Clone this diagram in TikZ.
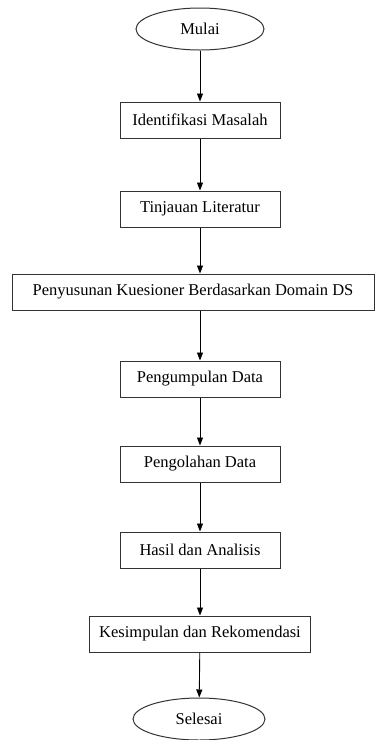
\documentclass[tikz,border=0pt]{standalone}
\usepackage{fontspec}
\setmainfont{Liberation Serif}
\usetikzlibrary{arrows.meta,shapes.geometric}
\begin{document}
\begin{tikzpicture}[x=1pt,y=-1pt,
  box/.style={draw=black!80,line width=1pt,minimum height=36pt,minimum width=160pt,inner xsep=10pt,inner ysep=0pt,font=\fontsize{16.5}{18}\selectfont},
  term/.style={draw=black!80,line width=1pt,ellipse,minimum width=128pt,minimum height=42pt,inner sep=0pt,font=\fontsize{16.5}{18}\selectfont},
  arr/.style={line width=0.9pt,-{Triangle[length=8pt,width=6pt]}}]
\useasboundingbox (0,0) rectangle (376,740);
\node[term] (a) at (200,29) {Mulai};
\node[box] (b) at (200,120) {Identifikasi Masalah};
\node[box] (c) at (200,209) {Tinjauan Literatur};
\node[box,minimum width=362pt] (d) at (193,292) {Penyusunan Kuesioner Berdasarkan Domain DS};
\node[box] (e) at (200,379) {Pengumpulan Data};
\node[box] (f) at (200,464) {Pengolahan Data};
\node[box] (g) at (200,550) {Hasil dan Analisis};
\node[box] (h) at (200,634) {Kesimpulan dan Rekomendasi};
\node[term,minimum width=132pt] (i) at (199,719) {Selesai};
\draw[arr] (a) -- (b);
\draw[arr] (b) -- (c);
\draw[arr] (c) -- (c|-d.north);
\draw[arr] (c|-d.south) -- (e);
\draw[arr] (e) -- (f);
\draw[arr] (f) -- (g);
\draw[arr] (g) -- (h);
\draw[arr] (h) -- (i);
\end{tikzpicture}
\end{document}
